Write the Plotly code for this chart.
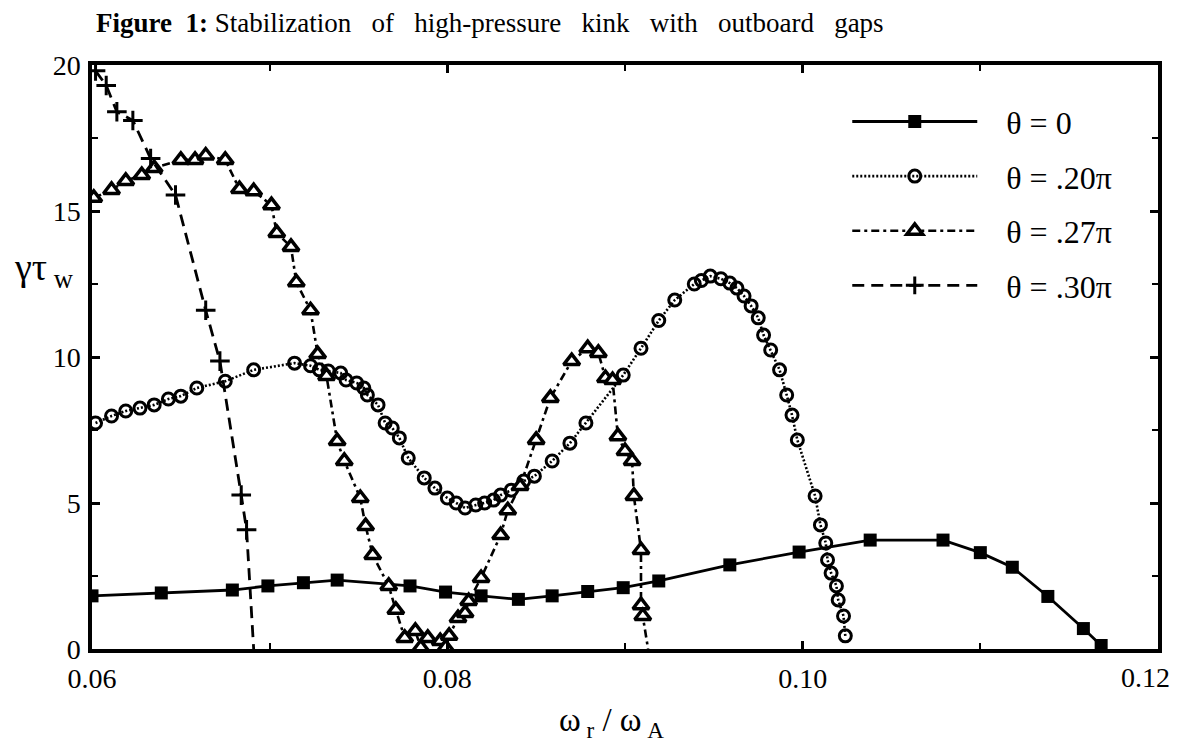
import plotly.graph_objects as go

# theta = 0 (filled squares, solid)
x_t0 = [0.0600, 0.0639, 0.0679, 0.0699, 0.0719, 0.0738, 0.0779, 0.0799, 0.0819, 0.0840,
        0.0859, 0.0879, 0.0899, 0.0919, 0.0959, 0.0998, 0.1038, 0.1079, 0.1100, 0.1118,
        0.1138, 0.1158, 0.1168]
y_t0 = [1.82, 1.92, 2.02, 2.16, 2.27, 2.36, 2.16, 1.95, 1.82, 1.70,
        1.82, 1.97, 2.10, 2.33, 2.88, 3.32, 3.73, 3.73, 3.30, 2.80,
        1.80, 0.70, 0.12]

# theta = .20 pi (open circles, dotted)
x_t20 = [0.0602, 0.0611, 0.0619, 0.0627, 0.0635, 0.0643, 0.0650, 0.0659, 0.0675, 0.0691,
         0.0714, 0.0723, 0.0728, 0.0733, 0.0740, 0.0743, 0.0749, 0.0753, 0.0755, 0.0761,
         0.0765, 0.0769, 0.0773, 0.0778, 0.0787, 0.0793, 0.0800, 0.0805, 0.0810, 0.0816,
         0.0821, 0.0826, 0.0830, 0.0836, 0.0843, 0.0849, 0.0859, 0.0869, 0.0878, 0.0899,
         0.0909, 0.0919, 0.0928, 0.0939, 0.0943, 0.0948, 0.0954, 0.0959, 0.0963, 0.0967,
         0.0971, 0.0975, 0.0978, 0.0982, 0.0987, 0.0991, 0.0994, 0.0997, 0.1007, 0.1010,
         0.1013, 0.1014, 0.1016, 0.1019, 0.1020, 0.1023, 0.1024]
y_t20 = [7.74, 7.98, 8.15, 8.25, 8.36, 8.56, 8.66, 8.94, 9.17, 9.56,
         9.79, 9.70, 9.56, 9.52, 9.45, 9.21, 9.11, 8.94, 8.70, 8.36,
         7.74, 7.57, 7.23, 6.54, 5.86, 5.51, 5.17, 5.00, 4.83, 4.93,
         5.00, 5.10, 5.27, 5.44, 5.75, 5.92, 6.44, 7.05, 7.74, 9.38,
         10.30, 11.25, 11.95, 12.50, 12.62, 12.77, 12.68, 12.53, 12.36, 12.09,
         11.75, 11.34, 10.75, 10.24, 9.56, 8.70, 8.01, 7.16, 5.24, 4.25,
         3.63, 3.05, 2.60, 2.16, 1.68, 1.13, 0.45]

# theta = .27 pi (open triangles, dash-dot)
x_t27 = [0.0601, 0.0611, 0.0619, 0.0628, 0.0635, 0.0650, 0.0658, 0.0664, 0.0675, 0.0683,
         0.0691, 0.0701, 0.0704, 0.0712, 0.0715, 0.0723, 0.0727, 0.0732, 0.0738, 0.0742,
         0.0751, 0.0754, 0.0758, 0.0767, 0.0771, 0.0776, 0.0782, 0.0785, 0.0789, 0.0796,
         0.0799, 0.0801, 0.0806, 0.0810, 0.0812, 0.0819, 0.0830, 0.0834, 0.0841, 0.0850,
         0.0858, 0.0870, 0.0879, 0.0885, 0.0889, 0.0893, 0.0896, 0.0900, 0.0904, 0.0905,
         0.0909, 0.0909, 0.0910, 0.0913]
y_t27 = [15.45, 15.72, 16.03, 16.23, 16.47, 16.75, 16.75, 16.90, 16.75, 15.75,
         15.68, 15.20, 14.25, 13.77, 12.56, 11.60, 10.10, 9.35, 7.12, 6.44,
         5.17, 4.21, 3.22, 2.16, 1.34, 0.38, 0.62, 0.05, 0.38, 0.27,
         0.05, 0.45, 1.06, 1.23, 1.64, 2.43, 3.90, 4.75, 5.58, 7.16,
         8.60, 9.86, 10.30, 10.14, 9.28, 9.21, 7.29, 6.78, 6.44, 5.24,
         3.39, 1.50, 1.13, 0.0]

# theta = .30 pi (crosses, dashed)
x_t30 = [0.0602, 0.0608, 0.0614, 0.0623, 0.0633, 0.0647, 0.0664, 0.0672, 0.0684, 0.0687, 0.0691]
y_t30 = [19.80, 19.30, 18.40, 18.10, 16.80, 15.55, 11.60, 9.86, 5.27, 4.08, 0.0]

legend_names = ["θ = 0", "θ = .20π", "θ = .27π", "θ = .30π"]
x_ticks = [0.06, 0.08, 0.10, 0.12]
y_ticks = [0, 5, 10, 15, 20]

SERIF = "Liberation Serif, Times New Roman, serif"
NB = "\u00a0"
pad = NB * 3

fig = go.Figure()
fig.add_trace(go.Scatter(
    x=x_t0, y=y_t0, mode="lines+markers", name=pad + legend_names[0], legendgroup="a",
    line=dict(color="black", width=2.8),
    marker=dict(symbol="square", size=13, color="black", opacity=1)))
fig.add_trace(go.Scatter(
    x=x_t20, y=y_t20, mode="lines+markers", name=pad + legend_names[1], legendgroup="b",
    line=dict(color="black", width=2.6, dash="2px,2px"),
    marker=dict(symbol="circle-open", size=12, color="black", opacity=1,
                line=dict(width=3, color="black"))))
sizes27 = [14] * (len(x_t27) - 1) + [0]
fig.add_trace(go.Scatter(
    x=x_t27, y=y_t27, mode="lines+markers", name=pad + legend_names[2], legendgroup="c",
    line=dict(color="black", width=2.6, dash="8px,4px,3px,4px"),
    marker=dict(symbol="triangle-up", size=sizes27, color="white", opacity=1,
                line=dict(width=3.5, color="black"))))
sizes30 = [14] * (len(x_t30) - 1) + [0]
fig.add_trace(go.Scatter(
    x=x_t30, y=y_t30, mode="lines+markers", name=pad + legend_names[3], legendgroup="d",
    line=dict(color="black", width=2.8, dash="12px,7px"),
    marker=dict(symbol="cross-thin-open", size=sizes30, color="black", opacity=1,
                line=dict(width=3, color="black"))))

axis_common = dict(
    showline=True, linecolor="black", linewidth=3.5, mirror="ticks",
    ticks="inside", ticklen=8, tickwidth=2.5, tickcolor="black",
    showgrid=False, zeroline=False, automargin=False,
    tickfont=dict(family=SERIF, size=28, color="black"),
)
x_ticktext = [f"{v:.2f}" for v in x_ticks]
# last label is drawn as an annotation shifted left so it stays inside the page
fig.update_xaxes(range=[0.06, 0.12], tickvals=x_ticks, ticktext=x_ticktext[:-1] + [""],
                 minor=dict(dtick=0.01, ticks="inside", ticklen=6, tickwidth=2, tickcolor="black"),
                 ticklabelstandoff=2,
                 **axis_common)
fig.update_yaxes(range=[0, 20], tickvals=y_ticks, ticktext=[str(v) for v in y_ticks],
                 minor=dict(dtick=2.5, ticks="inside", ticklen=6, tickwidth=2, tickcolor="black"),
                 ticklabelstandoff=2,
                 **axis_common)
fig.add_annotation(text=x_ticktext[-1], xref="x", yref="paper", x=x_ticks[-1], y=0,
                   xanchor="right", yanchor="middle", xshift=13, yshift=-28,
                   showarrow=False, borderpad=0,
                   font=dict(family=SERIF, size=28, color="black"))

sp = NB * 3
title_words = ["Stabilization", "of", "high-pressure", "kink", "with", "outboard", "gaps"]
title_text = "<b>Figure" + NB * 2 + "1:</b>" + NB + sp.join(title_words)

fig.update_layout(
    width=1179, height=743,
    margin=dict(l=84, r=29, t=57, b=102, autoexpand=False),
    paper_bgcolor="white", plot_bgcolor="white",
    font=dict(family=SERIF, color="black"),
    showlegend=True,
    legend=dict(x=0.7085, y=0.95, xanchor="left", yanchor="top",
                bgcolor="rgba(0,0,0,0)", borderwidth=0,
                font=dict(family=SERIF, size=32, color="black"),
                itemwidth=125, tracegroupgap=10, traceorder="grouped"),
    title=dict(
        text=title_text,
        x=88 / 1179, xanchor="left", xref="container",
        y=1 - 15 / 743, yanchor="middle", yref="container",
        font=dict(family=SERIF, size=27, color="black")),
)

fig.add_annotation(text="γτ<sub>" + NB + "w</sub>", xref="paper", yref="paper",
                   x=-80 / 1066, y=(641 - 262) / 584, xanchor="left", yanchor="middle",
                   showarrow=False, font=dict(family=SERIF, size=38, color="black"))
fig.add_annotation(text="ω<sub>" + NB + "r</sub>" + NB + "/" + NB + "ω<sub>" + NB + "A</sub>",
                   xref="paper", yref="paper",
                   x=(603 - 84) / 1066, y=-(714 - 641) / 584, xanchor="center", yanchor="middle",
                   showarrow=False, font=dict(family=SERIF, size=33, color="black"))

fig.write_html("out.html")
